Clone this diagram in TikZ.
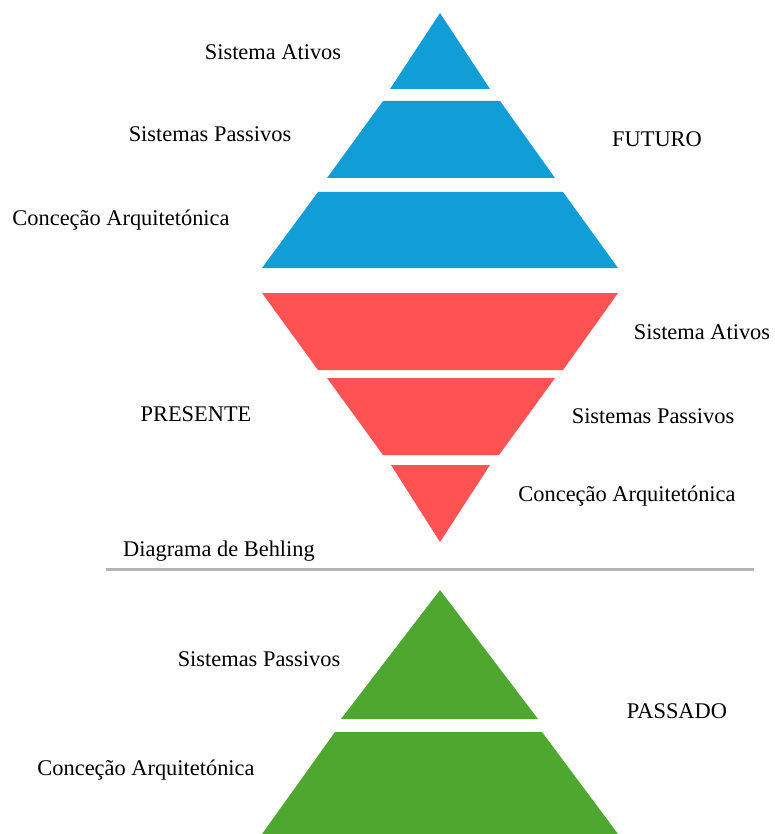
\documentclass[tikz,border=0pt]{standalone}
\usepackage{fontspec}
\setmainfont{Liberation Serif}
\definecolor{futblue}{RGB}{17,158,214}
\definecolor{presred}{RGB}{255,82,82}
\definecolor{pasgreen}{RGB}{78,167,46}
\definecolor{rulegray}{RGB}{180,180,180}
\begin{document}
\begin{tikzpicture}[x=1pt,y=-1pt,
  lbl/.style={font=\fontsize{22.4}{26}\selectfont, inner sep=0pt, anchor=center},
  bluefill/.style={fill=futblue, draw=none},
  redfill/.style={fill=presred, draw=none},
  greenfill/.style={fill=pasgreen, draw=none}]
\useasboundingbox (0,0) rectangle (774,834);
% Futuro (blue)
\fill[bluefill] (440,13) -- (490,89) -- (390,89) -- cycle;
\fill[bluefill] (383,101) -- (500,101) -- (555,178) -- (327,178) -- cycle;
\fill[bluefill] (318,192) -- (563,192) -- (618,268) -- (262,268) -- cycle;
% Presente (red)
\fill[redfill] (262,293) -- (618,293) -- (563,370) -- (318,370) -- cycle;
\fill[redfill] (327,378) -- (555,378) -- (499,455) -- (383,455) -- cycle;
\fill[redfill] (391,465) -- (490,465) -- (440,542) -- cycle;
% separator
\coordinate (rl) at (106,569);
\coordinate (rr) at (754,569);
\draw[rulegray, line width=3pt] (rl) -- (rr);
% Passado (green)
\fill[greenfill] (440,590) -- (538,719) -- (341,719) -- cycle;
\fill[greenfill] (335,732) -- (542,732) -- (618,834) -- (262,834) -- cycle;
% labels
\node[lbl] (fa) at (273,52) {Sistema Ativos};
\node[lbl] (fp) at (210,134) {Sistemas Passivos};
\node[lbl] (fc) at (121,220) {Conceção Arquitetónica};
\node[lbl] (fut) at (657,139) {FUTURO};
\node[lbl] (pa) at (702,332) {Sistema Ativos};
\node[lbl] (pp) at (653,416) {Sistemas Passivos};
\node[lbl] (pc) at (627,496) {Conceção Arquitetónica};
\node[lbl] (pre) at (196,414) {PRESENTE};
\node[lbl] (dia) at (219,551) {Diagrama de Behling};
\node[lbl] (gp) at (259,659) {Sistemas Passivos};
\node[lbl] (gc) at (146,770) {Conceção Arquitetónica};
\node[lbl] (pas) at (677,711) {PASSADO};
\end{tikzpicture}
\end{document}
